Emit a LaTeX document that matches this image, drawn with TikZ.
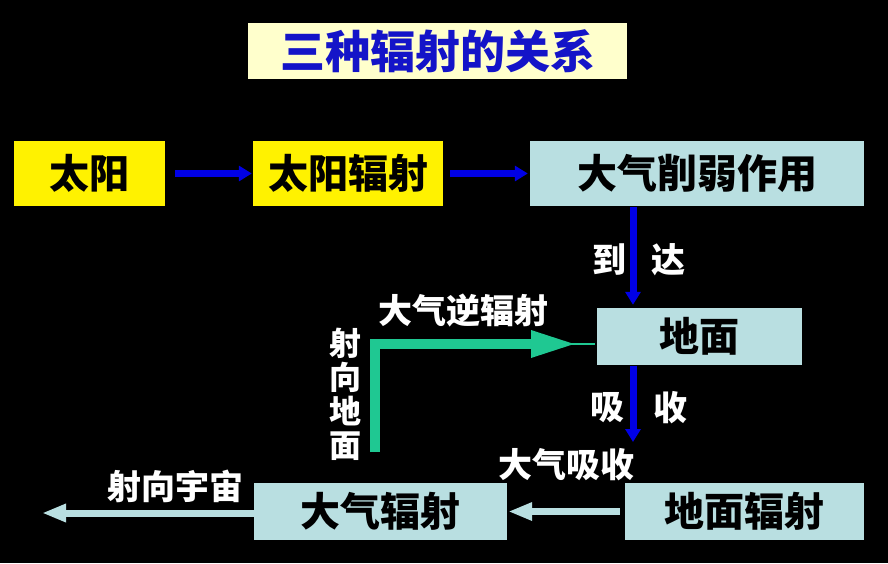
\documentclass[tikz,border=0pt]{standalone}
\usepackage{fontspec}
\newfontfamily\cjk{Noto Sans CJK SC}
\usetikzlibrary{arrows.meta}
\definecolor{ltblue}{HTML}{B9DFE1}
\definecolor{titlefill}{HTML}{FFFFCC}
\definecolor{titleblue}{HTML}{1414C8}
\definecolor{arrblue}{HTML}{0000E6}
\definecolor{gr}{HTML}{1FC892}
\begin{document}
\begin{tikzpicture}[x=1pt,y=-1pt,
  box/.style={inner sep=0pt, text=black, font=\cjk\bfseries\fontsize{40}{42}\selectfont},
  lab/.style={inner sep=0pt, text=white, font=\cjk\bfseries\fontsize{34}{36}\selectfont},
  barrow/.style={draw=arrblue, line width=7pt, -{Triangle[width=15pt,length=13pt]}},
  larrow/.style={draw=ltblue, line width=7pt, -{Triangle[width=17pt,length=24pt]}},
  gline/.style={draw=gr, line width=10.5pt},
]
\fill[black] (0,0) rectangle (888,563);
\useasboundingbox (0,0) rectangle (888,563);

% title
\node[inner sep=0pt, fill=titlefill, minimum width=379pt, minimum height=56pt,
  text=titleblue, font=\cjk\bfseries\fontsize{45}{47}\selectfont] (title) at (437.5,51) {三种辐射的关系};

% boxes
\node[box, fill=yellow, minimum width=151pt, minimum height=65pt] (sun) at (89.5,173.5) {太阳};
\node[box, fill=yellow, minimum width=190pt, minimum height=65pt] (solar) at (348,173.5) {太阳辐射};
\node[box, fill=ltblue, minimum width=334pt, minimum height=65pt] (weak) at (697,173.5) {大气削弱作用};
\node[box, fill=ltblue, minimum width=205pt, minimum height=57pt] (ground) at (699.5,336.5) {地面};
\node[box, fill=ltblue, minimum width=239pt, minimum height=57pt] (grad) at (744.5,511.5) {地面辐射};
\node[box, fill=ltblue, minimum width=253pt, minimum height=57pt] (arad) at (380.5,511.5) {大气辐射};

% blue arrows
\draw[barrow, shorten <=10pt, shorten >=1pt] (sun) -- (solar);
\draw[barrow, shorten <=7pt, shorten >=2pt] (solar) -- (weak);
\draw[barrow, shorten <=1pt, shorten >=3pt] ([xshift=-64pt]weak.south) -- ([xshift=-66.5pt]ground.north);
\coordinate (absend) at (633,442);
\draw[barrow, shorten <=1pt] ([xshift=-66.5pt]ground.south) -- (absend);

% light blue arrows
\draw[larrow, shorten <=5pt, shorten >=1pt] (grad) -- (arad);
\coordinate (space) at (42,513);
\draw[larrow, shorten >=0pt] ([yshift=-1.5pt]arad.west) -- (space);

% green arrow
\coordinate (gs) at (375,452);
\coordinate (gh) at (535,344);
\draw[gline] (gs) |- (gh);
\fill[gr] (531,330) -- (574,344) -- (531,358) -- cycle;
\draw[gr, line width=2.5pt, shorten >=2pt] (565,344) -- (ground.west |- 0,344);

% labels
\node[lab] (l1) at (609,260) {到};
\node[lab] (l2) at (668,260) {达};
\node[lab] (l3) at (607,408) {吸};
\node[lab] (l4) at (670,408) {收};
\node[lab] (l5) at (463,311) {大气逆辐射};
\node[lab, align=center, font=\cjk\bfseries\fontsize{32}{34}\selectfont] (l6) at (345,394) {射\\向\\地\\面};
\node[lab] (l7) at (175,486) {射向宇宙};
\node[lab] (l8) at (566,465) {大气吸收};
\end{tikzpicture}
\end{document}
